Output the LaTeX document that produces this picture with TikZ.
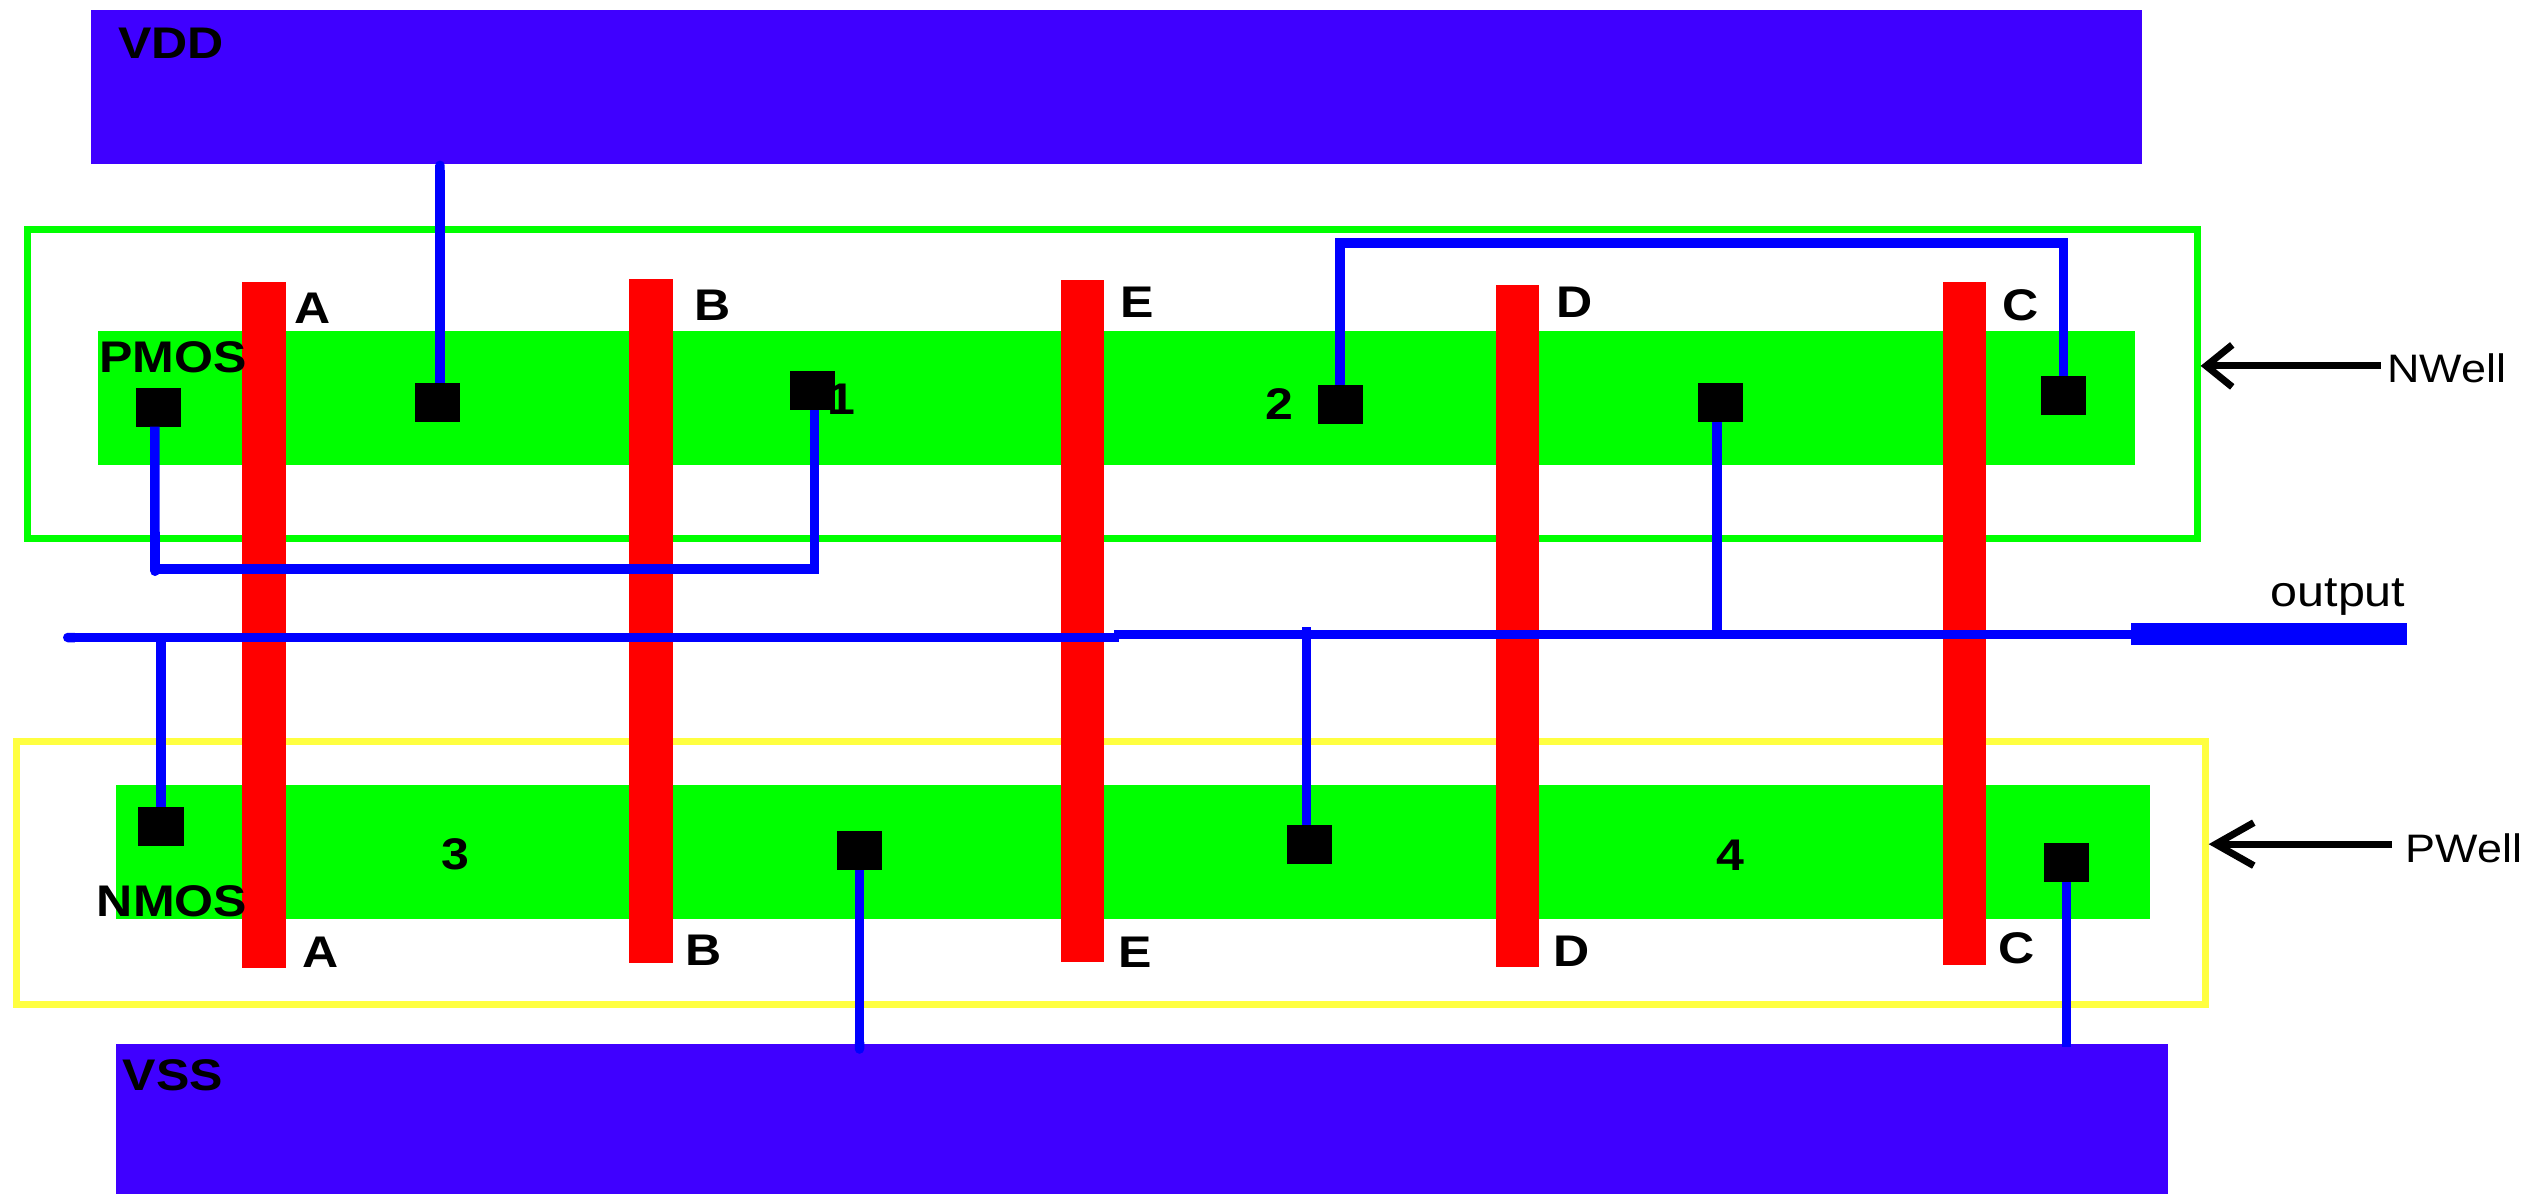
\documentclass[tikz,border=0pt]{standalone}
\usepackage{fontspec}
\setmainfont[FakeStretch=1.13]{Liberation Sans}
\usetikzlibrary{arrows.meta}

\definecolor{railblue}{RGB}{63,0,255}
\definecolor{wireblue}{RGB}{0,0,255}
\definecolor{wellyellow}{RGB}{255,255,64}

\tikzstyle{block}=[inner sep=0pt, outer sep=0pt, rectangle]
\tikzstyle{rail}=[block, fill=railblue]
\tikzstyle{well}=[rectangle, inner sep=0pt, line width=0.07cm, fill=white]
\tikzstyle{active}=[block, fill=green, minimum height=1.345cm]
\tikzstyle{gate}=[block, fill=red, minimum width=0.43cm]
\tikzstyle{contact}=[block, fill=black, minimum width=0.45cm, minimum height=0.39cm]
\tikzstyle{wire}=[line width=0.095cm, wireblue]
\tikzstyle{label}=[inner sep=0pt, font=\fontsize{12.6}{12.6}\selectfont\bfseries]
\tikzstyle{welllabel}=[inner sep=0pt, font=\fontsize{11.3}{11.3}\selectfont]
\tikzstyle{arrow}=[line width=0.07cm]

\begin{document}
\begin{tikzpicture}[x=0.01cm, y=-0.01cm]
      \useasboundingbox (0, 0) rectangle (2536, 1193);

      % supply rails
      \node[rail, minimum width=20.49cm, minimum height=1.54cm] (vdd) at (1116.5, 87) {};
      \node[rail, minimum width=20.5cm, minimum height=1.6cm] (vss) at (1142, 1124) {};
      \node[label] (vddtext) at (171, 43) {VDD};
      \node[label] (vsstext) at (173, 1075) {VSS};

      % wells
      \node[well, draw=green, minimum width=21.68cm, minimum height=3.09cm] (nwell) at (1112.5, 384) {};
      \node[well, draw=wellyellow, minimum width=21.87cm, minimum height=2.635cm] (pwell) at (1111, 873) {};

      % diffusion
      \node[active, minimum width=20.35cm] (pdiff) at (1116.5, 398) {};
      \node[active, minimum width=20.335cm] (ndiff) at (1133, 852) {};

      % gates
      \node[gate, minimum width=0.44cm, minimum height=6.86cm] (gatea) at (264, 625) {};
      \node[gate, minimum height=6.835cm] (gateb) at (651, 621) {};
      \node[gate, minimum height=6.82cm] (gatee) at (1082, 621) {};
      \node[gate, minimum height=6.82cm] (gated) at (1517, 626) {};
      \node[gate, minimum height=6.83cm] (gatec) at (1964, 623.5) {};

      % labels
      \node[label] (atop) at (313, 308) {A};
      \node[label] (btop) at (713, 305) {B};
      \node[label] (etop) at (1137, 302) {E};
      \node[label] (dtop) at (1575, 302) {D};
      \node[label] (ctop) at (2021, 305) {C};
      \node[label] (abot) at (321, 952) {A};
      \node[label] (bbot) at (704, 950) {B};
      \node[label] (ebot) at (1135, 952) {E};
      \node[label] (dbot) at (1572, 951) {D};
      \node[label] (cbot) at (2017, 948) {C};
      \node[label] (pmos) at (173, 357) {PMOS};
      \node[label] (nmos) at (172, 901) {NMOS};
      \node[label] (one) at (841, 399) {1};
      \node[label] (two) at (1279, 404) {2};
      \node[label] (three) at (455, 854) {3};
      \node[label] (four) at (1730, 855) {4};
      \node[welllabel, font=\fontsize{12.2}{12.2}\selectfont] (outtext) at (2338, 597) {output};
      \node[welllabel] (nwelltext) at (2447, 368) {NWell};
      \node[welllabel] (pwelltext) at (2464, 848) {PWell};

      % contacts
      \node[contact] (cp1) at (158.5, 407) {};
      \node[contact] (cp2) at (437.5, 402) {};
      \node[contact] (cp3) at (812.5, 390) {};
      \node[contact] (cp4) at (1340, 404.5) {};
      \node[contact] (cp5) at (1720, 402.5) {};
      \node[contact] (cp6) at (2063.5, 395) {};
      \node[contact] (cn1) at (161, 826) {};
      \node[contact] (cn2) at (859.5, 850.5) {};
      \node[contact] (cn3) at (1309, 844) {};
      \node[contact] (cn4) at (2066.5, 862.5) {};

      % output pad and free wire ends
      \node[block, fill=wireblue, minimum width=2.765cm, minimum height=0.215cm] (outpad) at (2269, 634) {};
      \coordinate (outleft) at (63, 637.5);
      \coordinate (outjog) at (1119, 637.5);
      \coordinate (outjogup) at (1114, 634.5);
      \coordinate (dropin) at (1306.5, 627);
      \coordinate (pdot) at (155, 576);
      \coordinate (pbend) at (155, 569);
      \coordinate (topbend) at (1340, 243);

      % wires
      \draw[wire, -{Round Cap}] ([xshift=0.7pt]cp2.north) -- ([xshift=0.7pt, yshift=1pt]cp2.north |- vdd.south);
      \draw[wire, -{Round Cap}] ([xshift=-1pt]cp1.south) -- (pdot);
      \draw[wire] (pbend) -| ([xshift=0.5pt]cp3.south);
      \draw[wire] (cp4.north) -- (topbend) -| (cp6.north);
      \draw[wire, {Round Cap}-] (outleft) -- (outjog);
      \draw[wire] (outjogup) -- (outjogup -| outpad.west);
      \draw[wire] (outleft -| cn1.north) -- (cn1.north);
      \draw[wire] (dropin) -- (dropin |- cn3.north);
      \draw[wire] (outjogup -| cp5.south) ++(-0.85pt, 0) -- ([xshift=-0.85pt]cp5.south);
      \draw[wire, -{Round Cap}] (cn2.south) -- ([yshift=-2.8pt]cn2.south |- vss.north);
      \draw[wire] (cn4.south) -- ([yshift=-0.85pt]cn4.south |- vss.north);

      % well arrows
      \draw[arrow, -{Straight Barb[length=0.26cm, width=0.42cm]}, shorten <=1.7pt] ([yshift=0.6pt]nwelltext.west) -- ([yshift=0.6pt]nwelltext.west -| nwell.east);
      \draw[arrow, -{Straight Barb[length=0.38cm, width=0.43cm]}, shorten <=3.7pt] ([yshift=1.1pt]pwelltext.west) -- ([yshift=1.1pt]pwelltext.west -| pwell.east);
    \end{tikzpicture}
\end{document}
